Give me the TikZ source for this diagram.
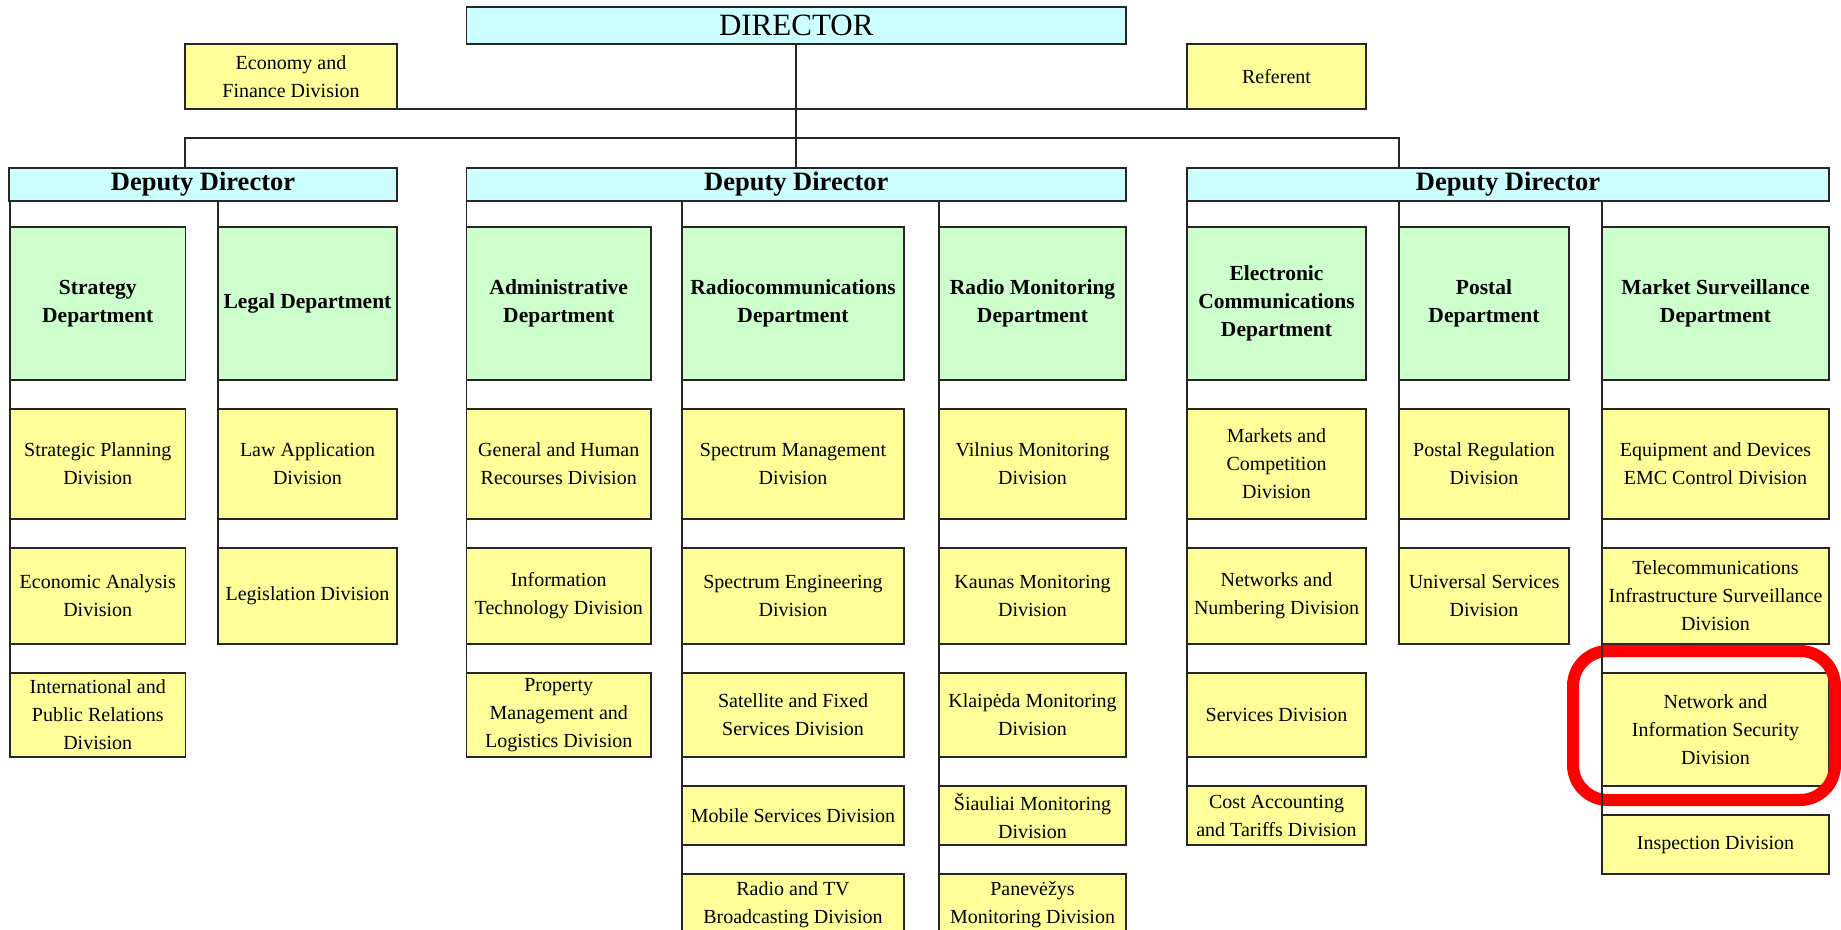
\documentclass[tikz,border=0pt]{standalone}
\usepackage{fontspec}
\setmainfont{Liberation Serif}
\usepackage{tikz}
\usetikzlibrary{positioning, calc, graphs}
\definecolor{headcyan}{HTML}{CCFFFF}
\definecolor{deptgreen}{HTML}{CCFFCC}
\definecolor{divyellow}{HTML}{FFFF99}
\definecolor{boxline}{HTML}{262626}
\tikzset{
node distance=29pt,
colline/.style={to path={(\tikztotarget.north west |- \tikztostart.south) -- (\tikztotarget.north west)}},
box/.style={%
    rectangle,
    draw=boxline,
    line width=1.8pt,
    inner sep=1pt,
    outer sep=0pt,
    align=center,
},
head/.style={box, fill=headcyan},
deputy/.style={head, minimum height=33.3pt, font=\bfseries\fontsize{26.5}{30}\selectfont},
dept/.style={box, fill=deptgreen, minimum height=152.7pt, font=\bfseries\fontsize{21.5}{28}\selectfont},
div/.style={box, fill=divyellow, font=\fontsize{20}{28}\selectfont},
redframe/.style={rectangle, draw=red, line width=12pt, rounded corners=35pt},
}

\begin{document}
\begin{tikzpicture}[x=1pt, y=-1pt, black!85, text=black, line width=1.8pt]
	\useasboundingbox (0,0) rectangle (1841,929);
	\clip (0,0) rectangle (1841,929);
	\coordinate (bus) at (0,138.3);

	% top of the chart
	\node[head, anchor=north west, minimum width=659.5pt, minimum height=37pt,
		font=\fontsize{31}{34}\selectfont] (director) at (466.5,7.3) {DIRECTOR};
	\node[div, anchor=north west, minimum width=212pt, minimum height=65pt] (econ) at (185,44) {Economy and\\Finance Division};
	\node[div, anchor=north west, minimum width=179pt, minimum height=65pt] (referent) at (1187,44) {Referent};
	\node[deputy, anchor=north west, minimum width=388pt] (dep1) at (9,167.7) {Deputy Director};
	\node[deputy, anchor=north west, minimum width=659.5pt] (dep2) at (466.5,167.7) {Deputy Director};
	\node[deputy, anchor=north west, minimum width=642pt] (dep3) at (1187,167.7) {Deputy Director};

	\begin{scope}[nodes={minimum width=175.5pt}]
	\node[dept, anchor=north west] (strat) at (10,227.3) {Strategy\\Department};
	\node[div, minimum height=110pt, below=of strat] (stratplan) {Strategic Planning\\Division};
	\node[div, minimum height=96pt, below=of stratplan] (econan) {Economic Analysis\\Division};
	\node[div, minimum height=84pt, below=of econan] (intrel) {International and\\Public Relations\\Division};
	\end{scope}

	\begin{scope}[nodes={minimum width=179pt}]
	\node[dept, anchor=north west] (legal) at (218,227.3) {Legal Department};
	\node[div, minimum height=110pt, below=of legal] (lawapp) {Law Application\\Division};
	\node[div, minimum height=96pt, below=of lawapp] (legis) {Legislation Division};
	\end{scope}

	\begin{scope}[nodes={minimum width=184.5pt}]
	\node[dept, anchor=north west] (admin) at (466.5,227.3) {Administrative\\Department};
	\node[div, minimum height=110pt, below=of admin] (genhum) {General and Human\\Recourses Division};
	\node[div, minimum height=96pt, below=of genhum] (infotech) {Information\\Technology Division};
	\node[div, minimum height=84pt, below=of infotech] (property) {Property\\Management and\\Logistics Division};
	\end{scope}

	\begin{scope}[nodes={minimum width=222pt}]
	\node[dept, anchor=north west] (radcom) at (682,227.3) {Radiocommunications\\Department};
	\node[div, minimum height=110pt, below=of radcom] (specman) {Spectrum Management\\Division};
	\node[div, minimum height=96pt, below=of specman] (speceng) {Spectrum Engineering\\Division};
	\node[div, minimum height=84pt, below=of speceng] (satfix) {Satellite and Fixed\\Services Division};
	\node[div, minimum height=59pt, below=of satfix] (mobile) {Mobile Services Division};
	\node[div, minimum height=62pt, below=of mobile] (radiotv) {Radio and TV\\Broadcasting Division};
	\end{scope}

	\begin{scope}[nodes={minimum width=187pt}]
	\node[dept, anchor=north west] (radmon) at (939,227.3) {Radio Monitoring\\Department};
	\node[div, minimum height=110pt, below=of radmon] (vilnius) {Vilnius Monitoring\\Division};
	\node[div, minimum height=96pt, below=of vilnius] (kaunas) {Kaunas Monitoring\\Division};
	\node[div, minimum height=84pt, below=of kaunas] (klaipeda) {Klaipėda Monitoring\\Division};
	\node[div, minimum height=59pt, below=of klaipeda] (siauliai) {Šiauliai Monitoring\\Division};
	\node[div, minimum height=62pt, below=of siauliai] (panevezys) {Panevėžys\\Monitoring Division};
	\end{scope}

	\begin{scope}[nodes={minimum width=179pt}]
	\node[dept, anchor=north west] (elcom) at (1187,227.3) {Electronic\\Communications\\Department};
	\node[div, minimum height=110pt, below=of elcom] (markets) {Markets and\\Competition\\Division};
	\node[div, minimum height=96pt, below=of markets] (networks) {Networks and\\Numbering Division};
	\node[div, minimum height=84pt, below=of networks] (services) {Services Division};
	\node[div, minimum height=59pt, below=of services] (costacc) {Cost Accounting\\and Tariffs Division};
	\end{scope}

	\begin{scope}[nodes={minimum width=170pt}]
	\node[dept, anchor=north west] (postal) at (1399,227.3) {Postal\\Department};
	\node[div, minimum height=110pt, below=of postal] (postreg) {Postal Regulation\\Division};
	\node[div, minimum height=96pt, below=of postreg] (univserv) {Universal Services\\Division};
	\end{scope}

	\begin{scope}[nodes={minimum width=227pt}]
	\node[dept, anchor=north west] (market) at (1602,227.3) {Market Surveillance\\Department};
	\node[div, minimum height=110pt, below=of market] (equip) {Equipment and Devices\\EMC Control Division};
	\node[div, minimum height=96pt, below=of equip] (telecom) {Telecommunications\\Infrastructure Surveillance\\Division};
	\node[div, minimum height=113pt, below=of telecom] (netsec) {Network and\\Information Security\\Division};
	\node[div, minimum height=59pt, below=of netsec] (inspect) {Inspection Division};
	\end{scope}

	\node[redframe, minimum width=262pt, minimum height=149pt] (hilite) at (1704,725.5) {};

\draw (director) -- (dep2);
\draw (econ.south east) -- (referent.south west);
\draw (econ.west |- dep1.north) -- (econ.west |- bus) -- (postal.west |- bus) -- (postal.west |- dep3.north);

\graph [use existing nodes, edges={colline}] {
dep1 -- strat -- stratplan -- econan -- intrel;
dep1 -- legal -- lawapp -- legis;
dep2 -- admin -- genhum -- infotech -- property;
dep2 -- radcom -- specman -- speceng -- satfix -- mobile -- radiotv;
dep2 -- radmon -- vilnius -- kaunas -- klaipeda -- siauliai -- panevezys;
dep3 -- elcom -- markets -- networks -- services -- costacc;
dep3 -- postal -- postreg -- univserv;
dep3 -- market -- equip -- telecom -- netsec -- inspect;
};

\end{tikzpicture}
\end{document}
